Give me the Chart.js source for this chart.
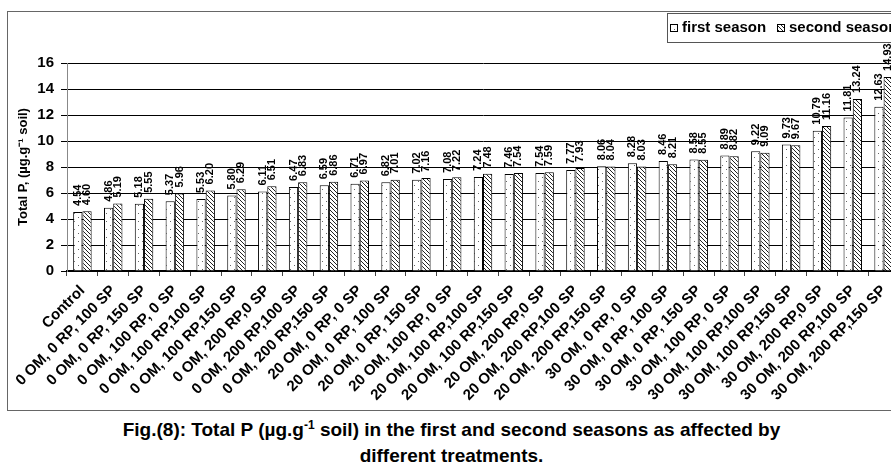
<!DOCTYPE html>
<html>
<head>
<meta charset="utf-8">
<script src="https://cdn.jsdelivr.net/npm/chart.js@4"></script>
<style>
  html, body { margin: 0; padding: 0; background: #fff; overflow: hidden; width: 891px; height: 472px; }
  #frame { position: absolute; left: 7px; top: 11px; width: 910px; height: 398px; border: 1px solid #666; }
  #caption { position: absolute; left: 6px; top: 417px; width: 891px; text-align: center;
    font-family: "Liberation Sans", Arial, sans-serif; font-weight: bold;
    font-size: 19px; line-height: 26px; color: #000; }
  #caption sup { font-size: 12px; line-height: 0; }
</style>
</head>
<body>
<div id="frame"><canvas id="grafico" width="910" height="398"></canvas></div>
<div id="caption">Fig.(8): Total P (µg.g<sup>-1</sup> soil) in the first and second seasons as affected by<br>different treatments.</div>
<script>
// categorias (tratamientos)
const treatments = [
  "Control", "0 OM, 0 RP, 100 SP", "0 OM, 0 RP, 150 SP", "0 OM, 100 RP, 0 SP",
  "0 OM, 100 RP,100 SP", "0 OM, 100 RP,150 SP", "0 OM, 200 RP,0 SP", "0 OM, 200 RP,100 SP",
  "0 OM, 200 RP,150 SP", "20 OM, 0 RP, 0 SP", "20 OM, 0 RP, 100 SP", "20 OM, 0 RP, 150 SP",
  "20 OM, 100 RP, 0 SP", "20 OM, 100 RP,100 SP", "20 OM, 100 RP,150 SP", "20 OM, 200 RP,0 SP",
  "20 OM, 200 RP,100 SP", "20 OM, 200 RP,150 SP", "30 OM, 0 RP, 0 SP", "30 OM, 0 RP, 100 SP",
  "30 OM, 0 RP, 150 SP", "30 OM, 100 RP, 0 SP", "30 OM, 100 RP,100 SP", "30 OM, 100 RP,150 SP",
  "30 OM, 200 RP,0 SP", "30 OM, 200 RP,100 SP", "30 OM, 200 RP,150 SP"
];
const firstSeason = [4.54, 4.86, 5.18, 5.37, 5.53, 5.80, 6.11, 6.47, 6.59, 6.71, 6.82, 7.02, 7.08, 7.24,
  7.46, 7.54, 7.77, 8.06, 8.28, 8.46, 8.58, 8.89, 9.22, 9.73, 10.79, 11.81, 12.63];
const secondSeason = [4.60, 5.19, 5.55, 5.96, 6.20, 6.29, 6.51, 6.83, 6.86, 6.97, 7.01, 7.16, 7.22, 7.48,
  7.54, 7.59, 7.93, 8.04, 8.03, 8.21, 8.55, 8.82, 9.09, 9.67, 11.16, 13.24, 14.93];
const yTicks = [0, 2, 4, 6, 8, 10, 12, 14, 16];

// patrones de relleno
function dotPattern() {
  const c = document.createElement("canvas");
  c.width = 8; c.height = 8;
  const g = c.getContext("2d");
  g.fillStyle = "#fff"; g.fillRect(0, 0, 8, 8);
  g.fillStyle = "#666";
  g.fillRect(2, 1, 1, 1);
  g.fillRect(6, 5, 1, 1);
  return g.createPattern(c, "repeat");
}
function hatchPattern() {
  const c = document.createElement("canvas");
  c.width = 4; c.height = 4;
  const g = c.getContext("2d");
  g.fillStyle = "#fff"; g.fillRect(0, 0, 4, 4);
  g.fillStyle = "#222";
  for (let i = 0; i < 4; i++) g.fillRect(i, i, 1, 1);
  return g.createPattern(c, "repeat");
}
const dots = dotPattern();
const hatch = hatchPattern();

// etiquetas de valores verticales
const valueLabels = {
  id: "valueLabels",
  afterDatasetsDraw(chart) {
    const ctx = chart.ctx;
    ctx.save();
    ctx.font = "bold 11px 'Liberation Sans', Arial, sans-serif";
    ctx.fillStyle = "#000";
    ctx.textAlign = "left";
    ctx.textBaseline = "middle";
    chart.data.datasets.forEach((ds, i) => {
      chart.getDatasetMeta(i).data.forEach((bar, j) => {
        ctx.save();
        ctx.translate(bar.x, bar.y - 6);
        ctx.rotate(-Math.PI / 2);
        ctx.fillText(ds.data[j].toFixed(2), 0, 0);
        ctx.restore();
      });
    });
    ctx.restore();
  }
};

// leyenda arriba a la derecha
const boxLegend = {
  id: "boxLegend",
  afterDraw(chart) {
    const ctx = chart.ctx;
    ctx.save();
    ctx.strokeStyle = "#555";
    ctx.lineWidth = 1;
    ctx.strokeRect(659.5, 1.5, 260, 29);
    ctx.font = "bold 15px 'Liberation Sans', Arial, sans-serif";
    ctx.textBaseline = "middle";
    const items = [
      { x: 662, fill: dots, text: "first season" },
      { x: 769, fill: hatch, text: "second season" }
    ];
    items.forEach((it) => {
      ctx.fillStyle = it.fill;
      ctx.fillRect(it.x, 12, 7, 7);
      ctx.strokeStyle = "#000";
      ctx.strokeRect(it.x + 0.5, 12.5, 7, 7);
      ctx.fillStyle = "#000";
      ctx.fillText(it.text, it.x + 12, 16);
    });
    ctx.restore();
  }
};

const ctx = document.getElementById("grafico").getContext("2d");
new Chart(ctx, {
  type: "bar",
  data: {
    labels: treatments,
    datasets: [
      { label: "first season", data: firstSeason, backgroundColor: dots, borderColor: "#000", borderWidth: 1,
        categoryPercentage: 0.6, barPercentage: 1.0 },
      { label: "second season", data: secondSeason, backgroundColor: hatch, borderColor: "#000", borderWidth: 1,
        categoryPercentage: 0.6, barPercentage: 1.0 }
    ]
  },
  options: {
    responsive: false,
    animation: false,
    layout: { padding: { top: 51, right: 19, left: 0, bottom: 0 } },
    plugins: { legend: { display: false }, tooltip: { enabled: false } },
    scales: {
      x: {
        afterFit(scale) { scale.height = 139; },
        grid: { display: true, drawOnChartArea: false, tickLength: 5, color: "#444" },
        border: { color: "#000", width: 2 },
        ticks: {
          autoSkip: false, minRotation: 45, maxRotation: 45, padding: 6, color: "#000",
          font: { family: "'Liberation Sans', Arial, sans-serif", size: 15, weight: "bold" }
        }
      },
      y: {
        min: 0, max: 16,
        afterFit(scale) { scale.width = 59; },
        afterBuildTicks(scale) { scale.ticks = yTicks.map((v) => ({ value: v })); },
        grid: { color: "#000", lineWidth: 1, tickLength: 6 },
        border: { color: "#888", width: 1 },
        ticks: {
          padding: 7, color: "#000",
          font: { family: "'Liberation Sans', Arial, sans-serif", size: 15, weight: "bold" }
        },
        title: {
          display: true, text: "Total P, (µg.g⁻¹ soil)", color: "#000", padding: { top: 8, bottom: 0 },
          font: { family: "'Liberation Sans', Arial, sans-serif", size: 13, weight: "bold" }
        }
      }
    }
  },
  plugins: [valueLabels, boxLegend]
});
</script>
</body>
</html>
